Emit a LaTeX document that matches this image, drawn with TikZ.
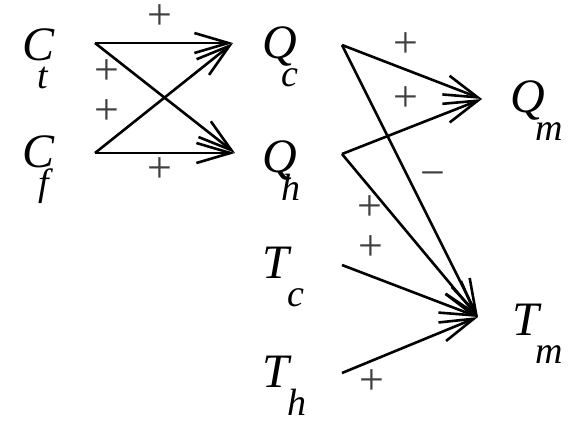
\documentclass[tikz,border=0pt]{standalone}
\usepackage{fontspec}
\setmainfont{Liberation Serif}
\usetikzlibrary{arrows.meta}
\newcommand{\varlab}[3]{#1\kern#3\raisebox{-14pt}{\fontsize{19}{19}\selectfont #2}}

\begin{document}
\begin{tikzpicture}[x=0.5pt,y=-0.5pt,
  var/.style={anchor=base west, inner sep=0pt,
              font=\fontsize{24}{24}\selectfont\itshape},
  sgn/.style={inner sep=0pt, text=black!75,
              font=\fontsize{22}{22}\selectfont},
  arr/.style={-{Straight Barb[length=17pt,width=10pt]}, line width=1.3pt},
  ]
  \useasboundingbox (0,0) rectangle (570,420);

  % variables
  \node[var] (Ct) at (22,60) {\varlab{C}{t}{-8.5pt}};
  \node[var] (Cf) at (22,167) {\varlab{C}{f}{-8pt}};
  \node[var] (Qc) at (262,58) {\varlab{Q}{c}{-8pt}};
  \node[var] (Qh) at (262,172) {\varlab{Q}{h}{-8pt}};
  \node[var] (Qm) at (510,112) {\varlab{Q}{m}{-5pt}};
  \node[var] (Tc) at (262,278) {\varlab{T}{c}{-1pt}};
  \node[var] (Th) at (262,387) {\varlab{T}{h}{-1pt}};
  \node[var] (Tm) at (512,335) {\varlab{T}{m}{-2pt}};

  % signs
  \node[sgn] (s1) at (160,17) {+};
  \node[sgn] (s2) at (107,72) {+};
  \node[sgn] (s3) at (107,112) {+};
  \node[sgn] (s4) at (160,170) {+};
  \node[sgn] (s5) at (406,45) {+};
  \node[sgn] (s6) at (406,99) {+};
  \node[sgn] (s7) at (433,180) {\textminus};
  \node[sgn] (s8) at (370,208) {+};
  \node[sgn] (s9) at (371,248) {+};
  \node[sgn] (s10) at (372,382) {+};

  % links
  \draw[arr] ([shift={(73,-17)}]Ct.base west) -- ([shift={(-29,-15)}]Qc.base west);
  \draw[arr] ([shift={(73,-17)}]Ct.base west) -- ([shift={(-27,-19)}]Qh.base west);
  \draw[arr] ([shift={(73,-14)}]Cf.base west) -- ([shift={(-29,-15)}]Qc.base west);
  \draw[arr] ([shift={(73,-14)}]Cf.base west) -- ([shift={(-27,-19)}]Qh.base west);
  \draw[arr] ([shift={(80,-13)}]Qc.base west) -- ([shift={(-28,-13)}]Qm.base west);
  \draw[arr] ([shift={(80,-18)}]Qh.base west) -- ([shift={(-28,-13)}]Qm.base west);
  \draw[arr] ([shift={(80,-13)}]Qc.base west) -- ([shift={(-34,-18)}]Tm.base west);
  \draw[arr] ([shift={(80,-18)}]Qh.base west) -- ([shift={(-34,-18)}]Tm.base west);
  \draw[arr] ([shift={(80,-13)}]Tc.base west) -- ([shift={(-34,-18)}]Tm.base west);
  \draw[arr] ([shift={(80,-14)}]Th.base west) -- ([shift={(-34,-18)}]Tm.base west);
\end{tikzpicture}
\end{document}
